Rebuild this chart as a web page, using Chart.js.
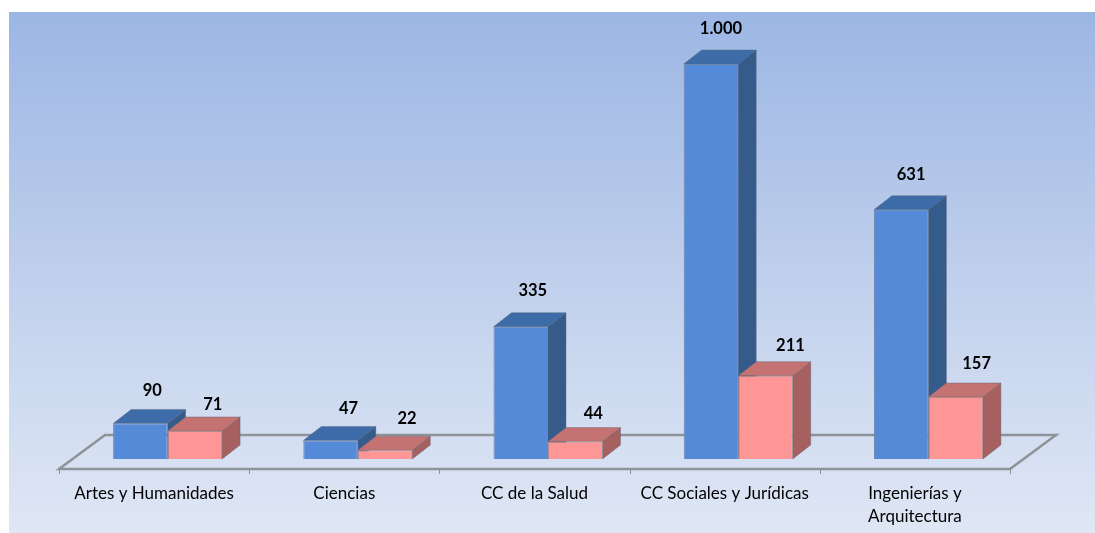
<!DOCTYPE html>
<html>
<head>
<meta charset="utf-8">
<style>
  html, body { margin: 0; padding: 0; background: #fff; }
  #wrap { width: 1095px; height: 533px; }
</style>
<script src="https://cdn.jsdelivr.net/npm/chart.js@4"></script>
</head>
<body>
<div id="wrap"><canvas id="chart" width="1095" height="533"></canvas></div>
<script>
// ─ Data ───────────────────────────────────────────────────────────────────────
const categories = ['Artes y Humanidades', 'Ciencias', 'CC de la Salud', 'CC Sociales y Jurídicas', ['Ingenierías y', 'Arquitectura']];
const blueValues = [90, 47, 335, 1000, 631];
const pinkValues = [71, 22, 44, 211, 157];

// ─ Colours ────────────────────────────────────────────────────────────────────
const BLUE = { front: '#558ad8', side: '#355b8b', top: '#3d6ca9', edge: '#6f86a8' };
const PINK = { front: '#fe9696', side: '#a66060', top: '#c47372', edge: '#b58a8e' };
const EDGE = 'rgba(90,100,115,0.4)';
const FLOOR = '#8f9296';

// 3D depth of a bar, and of the floor around it
const DX = 18, DY = 14;
const FLOOR_BACK = 24, FLOOR_FRONT = 10, FLOOR_SHIFT = 13.5, FLOOR_DX = 46;

// where each value label sits, relative to the top of its bar
const LABEL_SHIFT = [
  [[12, -33], [18, -32], [12, -36], [10, -35], [10, -35]],
  [[18, -26], [22, -32], [18, -28], [25, -30], [21, -33]]
];

function fmt(v) {
  return String(v).replace(/\B(?=(\d{3})+$)/g, '.');
}

function face(ctx, pts, fill) {
  ctx.beginPath();
  pts.forEach((p, i) => i ? ctx.lineTo(p[0], p[1]) : ctx.moveTo(p[0], p[1]));
  ctx.closePath();
  ctx.fillStyle = fill;
  ctx.fill();
  ctx.strokeStyle = EDGE;
  ctx.lineWidth = 1;
  ctx.stroke();
}

// ─ Background and floor ───────────────────────────────────────────────────────
const backdrop = {
  id: 'backdrop',
  beforeDraw(chart) {
    const { ctx } = chart;
    const g = ctx.createLinearGradient(0, 12, 0, 533);
    g.addColorStop(0, '#9cb6e4');
    g.addColorStop(0.5, '#bfcfec');
    g.addColorStop(1, '#dfe7f5');
    ctx.fillStyle = g;
    ctx.fillRect(9, 12, 1086, 521);
  }
};

const floor = {
  id: 'floor',
  beforeDatasetsDraw(chart) {
    const { ctx, scales: { x, y } } = chart;
    const base = y.getPixelForValue(0);
    const step = x.getPixelForTick(1) - x.getPixelForTick(0);
    const left = x.getPixelForTick(0) - step / 2 - FLOOR_SHIFT;
    const right = left + step * categories.length;
    ctx.save();
    ctx.strokeStyle = FLOOR;
    ctx.lineWidth = 2.5;
    ctx.beginPath();
    ctx.moveTo(left, base + FLOOR_FRONT);
    ctx.lineTo(left + FLOOR_DX, base - FLOOR_BACK);
    ctx.lineTo(right + FLOOR_DX, base - FLOOR_BACK);
    ctx.lineTo(right, base + FLOOR_FRONT);
    ctx.closePath();
    ctx.stroke();
    ctx.lineWidth = 1;
    ctx.beginPath();
    for (let i = 0; i <= categories.length; i++) {
      const px = Math.round(left + step * i) + 0.5;
      ctx.moveTo(px, base + FLOOR_FRONT);
      ctx.lineTo(px, base + FLOOR_FRONT + 5);
    }
    ctx.stroke();
    ctx.restore();
  }
};

// ─ Bars: blue goes first so the pink one sits in front of its side ────────────
const bars3d = {
  id: 'bars3d',
  beforeDatasetsDraw(chart) {
    const { ctx } = chart;
    [0, 1].forEach(d => {
      const cols = d === 0 ? BLUE : PINK;
      chart.getDatasetMeta(d).data.forEach(bar => {
        const l = bar.x - bar.width / 2, r = bar.x + bar.width / 2;
        const t = bar.y, b = bar.base;
        ctx.save();
        face(ctx, [[r, t], [r + DX, t - DY], [r + DX, b - DY], [r, b]], cols.side);
        face(ctx, [[l, t], [l + DX, t - DY], [r + DX, t - DY], [r, t]], cols.top);
        ctx.restore();
        bar.draw(ctx);
      });
    });
    return false;
  },
  afterDraw(chart) {
    const { ctx } = chart;
    ctx.save();
    ctx.font = 'bold 16.5px Lato, sans-serif';
    ctx.fillStyle = '#000';
    ctx.textAlign = 'center';
    ctx.textBaseline = 'middle';
    [0, 1].forEach(d => {
      chart.getDatasetMeta(d).data.forEach((bar, i) => {
        const v = chart.data.datasets[d].data[i];
        const [sx, sy] = LABEL_SHIFT[d][i];
        ctx.fillText(fmt(v), bar.x + sx, bar.y + sy);
      });
    });
    ctx.restore();
  }
};

// ─ Chart ──────────────────────────────────────────────────────────────────────
new Chart(document.getElementById('chart'), {
  type: 'bar',
  plugins: [backdrop, floor, bars3d],
  data: {
    labels: categories,
    datasets: [
      { data: blueValues, backgroundColor: BLUE.front, borderColor: BLUE.edge, borderWidth: 1 },
      { data: pinkValues, backgroundColor: PINK.front, borderColor: PINK.edge, borderWidth: 1 }
    ]
  },
  options: {
    responsive: false,
    animation: false,
    events: [],
    layout: { padding: { left: 72.5, right: 71.5, top: 64, bottom: 0 } },
    plugins: { legend: { display: false }, tooltip: { enabled: false } },
    datasets: { bar: { categoryPercentage: 0.573, barPercentage: 1 } },
    scales: {
      x: {
        grid: { display: false },
        border: { display: false },
        afterFit: s => { s.height = 74; },
        ticks: {
          color: '#000',
          font: { family: 'Lato, sans-serif', size: 17, lineHeight: 1.35 },
          autoSkip: false,
          maxRotation: 0,
          minRotation: 0,
          labelOffset: -FLOOR_SHIFT,
          padding: 15
        }
      },
      y: { display: false, min: 0, max: 1000 }
    }
  }
});
</script>
</body>
</html>
